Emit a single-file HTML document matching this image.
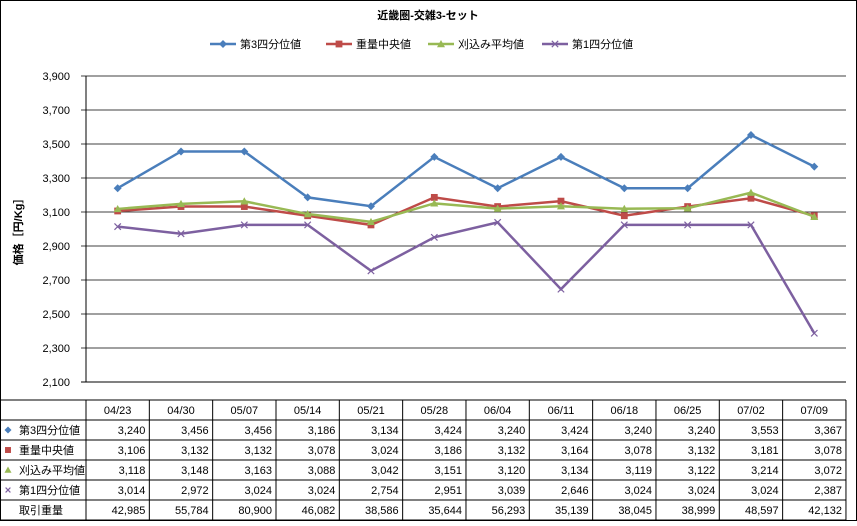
<!DOCTYPE html>
<html><head><meta charset="utf-8"><style>
body{margin:0;background:#fff}
svg text{font-family:"Liberation Sans","Noto Sans CJK JP",sans-serif;}
</style></head><body>
<svg id="c" width="857" height="521" xmlns="http://www.w3.org/2000/svg">
<rect x="0.5" y="0.5" width="856" height="520" fill="#fff" stroke="#000"/>
<g id="grid"></g><g id="series"></g><g id="table"></g>
</svg>
<script>
const categories=["04/23","04/30","05/07","05/14","05/21","05/28","06/04","06/11","06/18","06/25","07/02","07/09"];
const q3=[3240,3456,3456,3186,3134,3424,3240,3424,3240,3240,3553,3367];
const median=[3106,3132,3132,3078,3024,3186,3132,3164,3078,3132,3181,3078];
const mean=[3118,3148,3163,3088,3042,3151,3120,3134,3119,3122,3214,3072];
const q1=[3014,2972,3024,3024,2754,2951,3039,2646,3024,3024,3024,2387];
const volume=[42985,55784,80900,46082,38586,35644,56293,35139,38045,38999,48597,42132];
const yTicks=[2100,2300,2500,2700,2900,3100,3300,3500,3700,3900];
const NS="http://www.w3.org/2000/svg";
const x0=86,cw=63.33,yTop=76,yBot=382,yMin=2100,yMax=3900;
const X=i=>x0+cw*(i+0.5);
const Y=v=>yBot-(v-yMin)/(yMax-yMin)*(yBot-yTop);
const fmt=v=>v.toLocaleString('en-US');
function mk(tag,attrs,parent,text){const e=document.createElementNS(NS,tag);for(const k in attrs)e.setAttribute(k,attrs[k]);if(text!==undefined)e.textContent=text;parent.appendChild(e);return e;}
const svg=document.getElementById('c'),grid=document.getElementById('grid'),ser=document.getElementById('series'),tab=document.getElementById('table');
let t=mk('text',{x:428,y:19,'text-anchor':'middle','font-size':11,'font-weight':'bold'},svg,'近畿圏-交雑3-セット');


t=mk('text',{x:22,y:229,'text-anchor':'middle','font-size':11,'font-weight':'bold',transform:'rotate(-90 22 229)'},svg,'価格［円/Kg］');


yTicks.forEach(v=>{
 const l=mk('line',{x1:81,x2:846,y1:Y(v),y2:Y(v),stroke:'#000','stroke-width':v===yMin?1:0.8},grid);
 
 
 const tx=mk('text',{x:70,y:Y(v)+4,'text-anchor':'end','font-size':11},grid,fmt(v));
 
 
});
const a=mk('line',{x1:86,x2:86,y1:yTop,y2:yBot,stroke:'#000'},grid);


const series=[
 {name:'第3四分位値',d:q3,c:'#4a7ebb',m:'diamond',id:'q3'},
 {name:'重量中央値',d:median,c:'#be4b48',m:'square',id:'median'},
 {name:'刈込み平均値',d:mean,c:'#98b954',m:'triangle',id:'mean'},
 {name:'第1四分位値',d:q1,c:'#7d60a0',m:'x',id:'q1'}];
function marker(p,type,x,y,c,s){
 if(type==='diamond')return mk('path',{d:`M${x} ${y-s}L${x+s} ${y}L${x} ${y+s}L${x-s} ${y}Z`,fill:c},p);
 if(type==='square')return mk('rect',{x:x-s*0.85,y:y-s*0.85,width:s*1.7,height:s*1.7,fill:c},p);
 if(type==='triangle')return mk('path',{d:`M${x} ${y-s}L${x+s} ${y+s*0.8}L${x-s} ${y+s*0.8}Z`,fill:c},p);
 return mk('path',{d:`M${x-s*0.8} ${y-s*0.8}L${x+s*0.8} ${y+s*0.8}M${x+s*0.8} ${y-s*0.8}L${x-s*0.8} ${y+s*0.8}`,stroke:c,'stroke-width':1.2,fill:'none'},p);
}
series.forEach(s=>{
 const g=mk('g',{},ser);
 
 
 const pl=mk('polyline',{points:s.d.map((v,i)=>X(i)+','+Y(v)).join(' '),fill:'none',stroke:s.c,'stroke-width':2.5},g);
 
 
 s.d.forEach((v,i)=>{const m=marker(g,s.m,X(i),Y(v),s.c,4);
  
  });
});
const lx=[210,326,428,542];
series.forEach((s,i)=>{
 const g=mk('g',{},svg);
 
 
 mk('line',{x1:lx[i],x2:lx[i]+26,y1:44,y2:44,stroke:s.c,'stroke-width':2.5},g);
 marker(g,s.m,lx[i]+13,44,s.c,4);
 mk('text',{x:lx[i]+30,y:48,'font-size':11},g,s.name);
});
const tTop=400,rh=20,tRight=846;
const rows=[{n:'',v:null},...series.map(s=>({n:s.name,v:s.d,s})),{n:'取引重量',v:volume}];
for(let r=0;r<=6;r++){const l=mk('line',{x1:0,x2:tRight,y1:tTop+r*rh,y2:tTop+r*rh,stroke:'#000'},tab);
 
 }
for(let c=0;c<=12;c++){const xx=x0+cw*c;const l=mk('line',{x1:xx,x2:xx,y1:tTop,y2:tTop+6*rh,stroke:'#000'},tab);
 
 }
categories.forEach((c,i)=>{const tx=mk('text',{x:X(i),y:tTop+14,'text-anchor':'middle','font-size':11},tab,c);
 
 });
rows.slice(1).forEach((r,ri)=>{
 const y=tTop+(ri+1)*rh+14;
 if(r.s)marker(tab,r.s.m,8,y-4,r.s.c,r.s.m==='x'?3:3.5);
 const h=mk('text',{x:19,y:y,'font-size':11},tab,r.n);
 
 
 r.v.forEach((v,i)=>{const tx=mk('text',{x:x0+cw*(i+1)-4,y:y,'text-anchor':'end','font-size':11},tab,fmt(v));
  
  });
});
</script>
</body></html>
